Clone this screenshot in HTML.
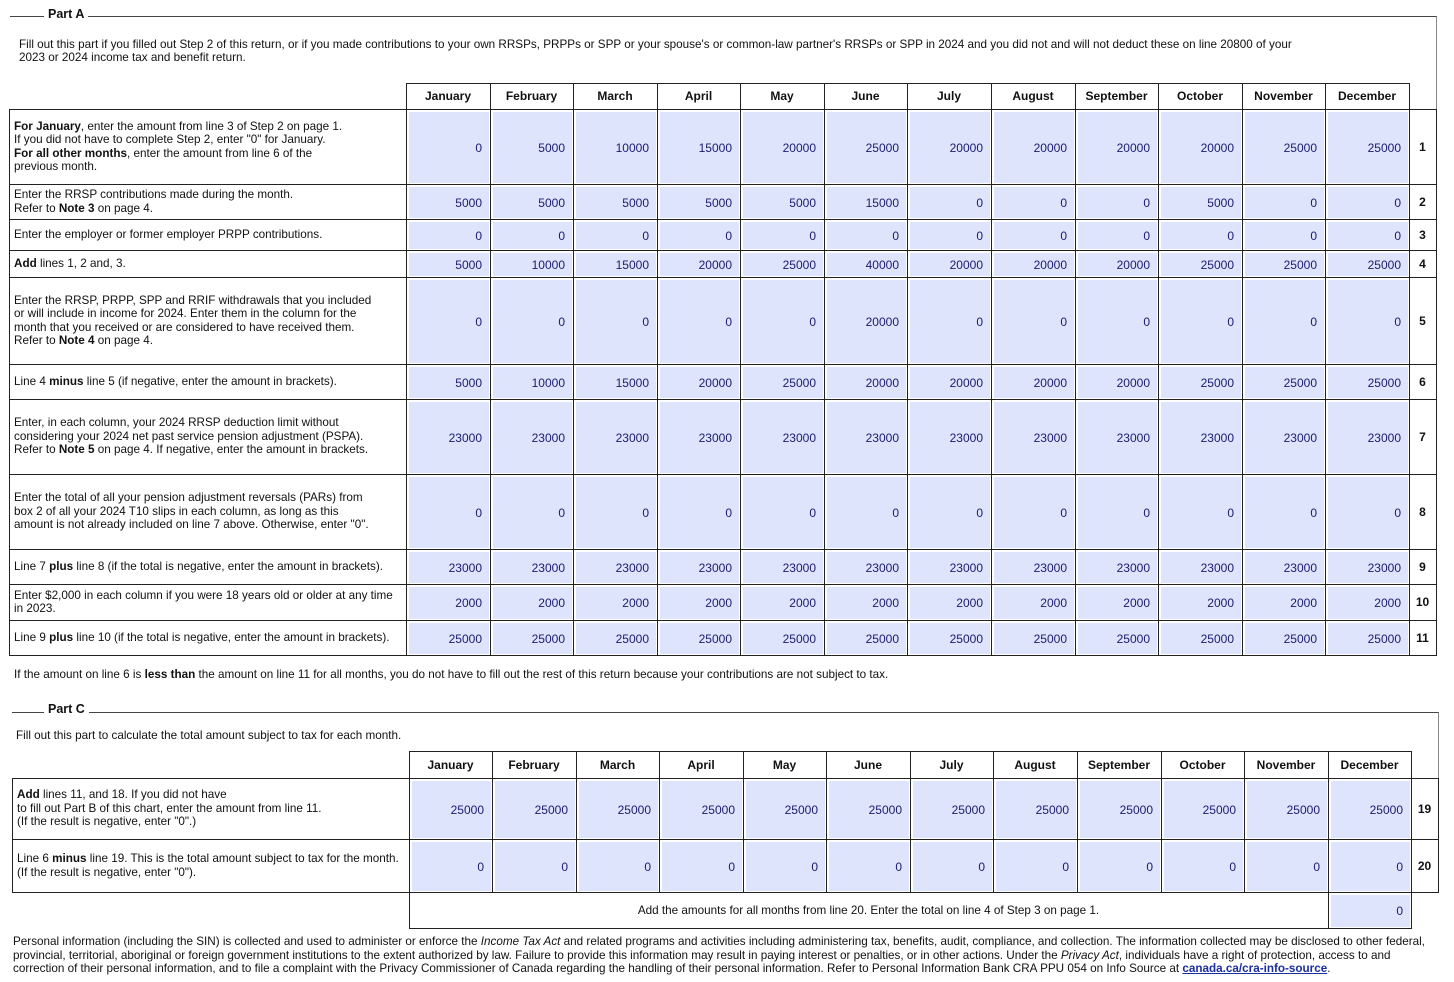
<!DOCTYPE html>
<html><head><meta charset="utf-8">
<style>
body{margin:0;background:#fff;width:1454px;height:982px;position:relative;overflow:hidden;font-family:"Liberation Sans",Arial,sans-serif;font-size:12px;color:#111;}
.a{position:absolute;box-sizing:border-box;}
.ln{position:absolute;background:#222;}
.lab{position:absolute;display:flex;align-items:center;padding-left:5px;box-sizing:border-box;line-height:13.4px;font-size:11.7px;}
.hd{position:absolute;display:flex;align-items:center;justify-content:center;font-weight:bold;font-size:12px;box-sizing:border-box;}
.cell{position:absolute;background:#dde4fc;display:flex;align-items:center;justify-content:flex-end;padding-right:7px;box-sizing:border-box;color:#1b1b70;font-size:12px;}
.num{position:absolute;display:flex;align-items:center;justify-content:center;font-weight:bold;font-size:12px;}
.txt{position:absolute;font-size:12px;line-height:13.4px;white-space:nowrap;}
</style></head><body>
<div class="a" style="left:10px;top:16px;width:1427px;height:640px;border-top:1px solid #444;border-right:1px solid #888;"></div>
<div class="txt" style="left:44px;top:8px;background:#fff;padding:0 4px;font-weight:bold;font-size:12.5px;">Part A</div>
<div class="txt" style="left:19px;top:39px;font-size:11.7px;line-height:12.5px;">Fill out this part if you filled out Step 2 of this return, or if you made contributions to your own RRSPs, PRPPs or SPP or your spouse's or common-law partner's RRSPs or SPP in 2024 and you did not and will not deduct these on line 20800 of your<br>2023 or 2024 income tax and benefit return.</div>

<div class="a" style="left:12px;top:712px;width:1427px;height:180px;border-top:1px solid #444;border-right:1px solid #888;"></div>
<div class="txt" style="left:44px;top:703px;background:#fff;padding:0 4px;font-weight:bold;font-size:12.5px;">Part C</div>
<div class="txt" style="left:16px;top:729px;font-size:11.7px;">Fill out this part to calculate the total amount subject to tax for each month.</div>

<div class="txt" style="left:14px;top:668px;font-size:11.7px;">If the amount on line 6 is <b>less than</b> the amount on line 11 for all months, you do not have to fill out the rest of this return because your contributions are not subject to tax.</div>

<div class="txt" style="left:13px;top:935px;font-size:11.7px;line-height:13.5px;">Personal information (including the SIN) is collected and used to administer or enforce the <i>Income Tax Act</i> and related programs and activities including administering tax, benefits, audit, compliance, and collection. The information collected may be disclosed to other federal,<br>provincial, territorial, aboriginal or foreign government institutions to the extent authorized by law. Failure to provide this information may result in paying interest or penalties, or in other actions. Under the <i>Privacy Act</i>, individuals have a right of protection, access to and<br>correction of their personal information, and to file a complaint with the Privacy Commissioner of Canada regarding the handling of their personal information. Refer to Personal Information Bank CRA PPU 054 on Info Source at <a style="color:#1a2ea0;font-weight:bold;text-decoration:underline;">canada.ca/cra-info-source</a>.</div>

<div id="root"></div>
<script>
const months=["January","February","March","April","May","June","July","August","September","October","November","December"];
const rowNumsA=["1","2","3","4","5","6","7","8","9","10","11"];
const labelsA=[
"<b>For January</b>, enter the amount from line 3 of Step 2 on page 1.<br>If you did not have to complete Step 2, enter \"0\" for January.<br><b>For all other months</b>, enter the amount from line 6 of the<br>previous month.",
"Enter the RRSP contributions made during the month.<br>Refer to <b>Note 3</b> on page 4.",
"Enter the employer or former employer PRPP contributions.",
"<b>Add</b> lines 1, 2 and, 3.",
"Enter the RRSP, PRPP, SPP and RRIF withdrawals that you included<br>or will include in income for 2024. Enter them in the column for the<br>month that you received or are considered to have received them.<br>Refer to <b>Note 4</b> on page 4.",
"Line 4 <b>minus</b> line 5 (if negative, enter the amount in brackets).",
"Enter, in each column, your 2024 RRSP deduction limit without<br>considering your 2024 net past service pension adjustment (PSPA).<br>Refer to <b>Note 5</b> on page 4. If negative, enter the amount in brackets.",
"Enter the total of all your pension adjustment reversals (PARs) from<br>box 2 of all your 2024 T10 slips in each column, as long as this<br>amount is not already included on line 7 above. Otherwise, enter \"0\".",
"Line 7 <b>plus</b> line 8 (if the total is negative, enter the amount in brackets).",
"Enter $2,000 in each column if you were 18 years old or older at any time<br>in 2023.",
"Line 9 <b>plus</b> line 10 (if the total is negative, enter the amount in brackets)."];
const line1=[0,5000,10000,15000,20000,25000,20000,20000,20000,20000,25000,25000];
const line2=[5000,5000,5000,5000,5000,15000,0,0,0,5000,0,0];
const line3=[0,0,0,0,0,0,0,0,0,0,0,0];
const line4=[5000,10000,15000,20000,25000,40000,20000,20000,20000,25000,25000,25000];
const line5=[0,0,0,0,0,20000,0,0,0,0,0,0];
const line6=[5000,10000,15000,20000,25000,20000,20000,20000,20000,25000,25000,25000];
const line7=[23000,23000,23000,23000,23000,23000,23000,23000,23000,23000,23000,23000];
const line8=[0,0,0,0,0,0,0,0,0,0,0,0];
const line9=[23000,23000,23000,23000,23000,23000,23000,23000,23000,23000,23000,23000];
const line10=[2000,2000,2000,2000,2000,2000,2000,2000,2000,2000,2000,2000];
const line11=[25000,25000,25000,25000,25000,25000,25000,25000,25000,25000,25000,25000];
const line19=[25000,25000,25000,25000,25000,25000,25000,25000,25000,25000,25000,25000];
const line20=[0,0,0,0,0,0,0,0,0,0,0,0];
const line20Total=0;
const rowNumsC=["19","20"];
const labelsC=["<b>Add</b> lines 11, and 18. If you did not have<br>to fill out Part B of this chart, enter the amount from line 11.<br>(If the result is negative, enter \"0\".)",
"Line 6 <b>minus</b> line 19. This is the total amount subject to tax for the month.<br>(If the result is negative, enter \"0\")."];

const root=document.getElementById('root');
function mk(cls,x,y,w,h,html){const d=document.createElement('div');d.className=cls;d.style.left=x+'px';d.style.top=y+'px';if(w!=null)d.style.width=w+'px';if(h!=null)d.style.height=h+'px';if(html!=null)d.innerHTML=html;root.appendChild(d);return d;}
function hline(x1,x2,y){const d=mk('ln',x1,y,x2-x1+1,1);}
function vline(x,y1,y2){const d=mk('ln',x,y1,1,y2-y1);}

function table(prefix,x0,cols,hy,rowsY,labels,nums,data){
  const xE=cols[cols.length-1]+27;
  for(let i=0;i<12;i++){const h=mk('hd',cols[i],hy,cols[i+1]-cols[i],rowsY[0]-hy,months[i]);
    
    }
  hline(cols[0],cols[12],hy);
  for(let i=0;i<=12;i++)vline(cols[i],hy,rowsY[rowsY.length-1]);
  vline(x0,rowsY[0],rowsY[rowsY.length-1]);
  vline(xE,rowsY[0],rowsY[rowsY.length-1]);
  for(let r=0;r<rowsY.length;r++)hline(x0,xE,rowsY[r]);
  for(let r=0;r<labels.length;r++){
    const y=rowsY[r],h=rowsY[r+1]-y;
    const l=mk('lab',x0,y,cols[0]-x0,h,'<span>'+labels[r]+'</span>');
    
    
    for(let i=0;i<12;i++){
      const c=mk('cell',cols[i]+3,y+3,cols[i+1]-cols[i]-4,h-4,String(data[r][i]));
      
      
    }
    const n=mk('num',cols[12],y,xE-cols[12],h,nums[r]);
    
    
  }
}
table('part-a',9,[406,490,573,657,740,824,907,991,1075,1158,1242,1325,1409],83,
  [109,184,219,250,277,364,399,474,549,584,620,655],labelsA,rowNumsA,
  [line1,line2,line3,line4,line5,line6,line7,line8,line9,line10,line11]);
table('part-c',12,[409,492,576,659,743,826,910,993,1077,1161,1244,1328,1411],751,
  [778,839,892],labelsC,rowNumsC,[line19,line20]);
hline(409,1411,928);vline(409,892,928);vline(1328,892,928);vline(1411,892,928);
const t=mk('hd',409,892,919,36,'Add the amounts for all months from line 20. Enter the total on line 4 of Step 3 on page 1.');
t.style.fontWeight='normal';t.style.fontSize='11.7px';


const tc=mk('cell',1331,895,79,32,String(line20Total));


</script>
</body></html>
